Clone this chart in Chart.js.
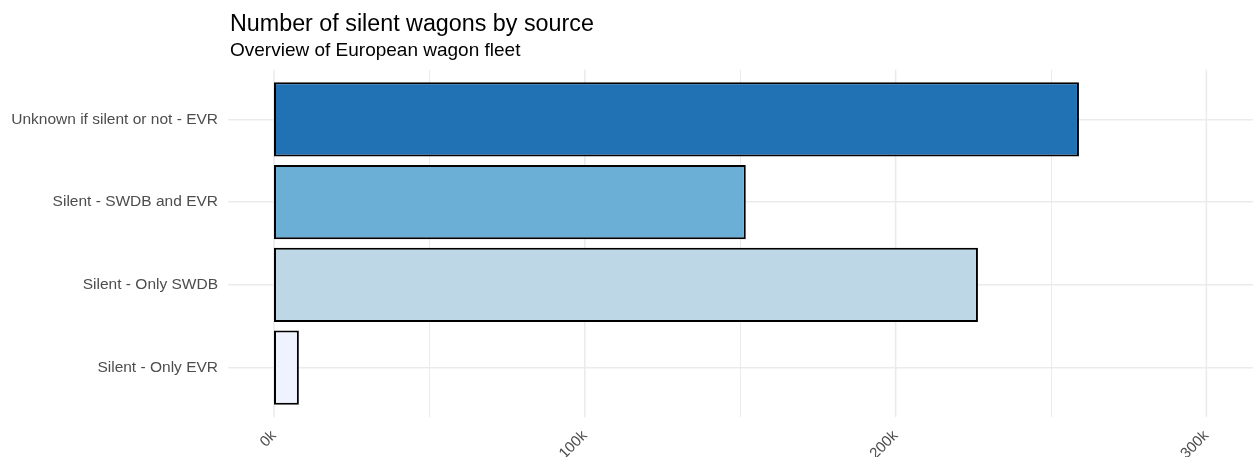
<!DOCTYPE html>
<html>
<head>
<meta charset="utf-8">
<script src="https://cdn.jsdelivr.net/npm/chart.js@4"></script>
<style>
  body { margin: 0; background: #fff; }
  canvas { display: block; }
</style>
</head>
<body>
<canvas id="chart" width="1253" height="457"></canvas>
<script>
// data
const categories = ['Unknown if silent or not - EVR', 'Silent - SWDB and EVR', 'Silent - Only SWDB', 'Silent - Only EVR'];
const wagons = [259000, 151800, 226500, 8000];
const barColors = ['#2171b5', '#6baed6', '#bdd7e7', '#eff3ff'];
const majorTicks = [0, 100000, 200000, 300000];
const minorTicks = [50000, 150000, 250000];

const FONT = '"Liberation Sans", Arial, sans-serif';

// vertical grid lines, a bit longer than the category range (like ggplot's expansion)
const gridPlugin = {
    id: 'ggGrid',
    beforeDatasetsDraw(chart) {
        const ctx = chart.ctx;
        const x = chart.scales.x, y = chart.scales.y;
        const step = Math.abs(y.getPixelForValue(1) - y.getPixelForValue(0));
        const top = chart.chartArea.top - step * 0.1;
        const bottom = chart.chartArea.bottom + step * 0.1;
        ctx.save();
        ctx.strokeStyle = '#ebebeb';
        minorTicks.forEach(v => {
            const px = Math.round(x.getPixelForValue(v)) + 0.5;
            ctx.lineWidth = 1;
            ctx.beginPath(); ctx.moveTo(px, top); ctx.lineTo(px, bottom); ctx.stroke();
        });
        majorTicks.forEach(v => {
            const px = x.getPixelForValue(v);
            ctx.lineWidth = 1.6;
            ctx.beginPath(); ctx.moveTo(px, top); ctx.lineTo(px, bottom); ctx.stroke();
        });
        ctx.restore();
    }
};

// title + subtitle at the panel's left edge
const titlePlugin = {
    id: 'ggTitle',
    afterDraw(chart) {
        const ctx = chart.ctx;
        const left = chart.chartArea.left + 2;
        ctx.save();
        ctx.fillStyle = '#000';
        ctx.textBaseline = 'alphabetic';
        ctx.font = '23.3px ' + FONT;
        ctx.fillText('Number of silent wagons by source', left, 31);
        ctx.font = '19px ' + FONT;
        ctx.fillText('Overview of European wagon fleet', left, 56);
        ctx.restore();
    }
};

new Chart(document.getElementById('chart'), {
    type: 'bar',
    data: {
        labels: categories,
        datasets: [{
            data: wagons,
            backgroundColor: barColors,
            borderColor: '#000',
            borderWidth: 2,
            borderSkipped: false,
            categoryPercentage: 0.9,
            barPercentage: 1
        }]
    },
    options: {
        indexAxis: 'y',
        responsive: false,
        animation: false,
        events: [],
        layout: { padding: { top: 78, left: 0, right: 0, bottom: 0 } },
        plugins: {
            legend: { display: false },
            tooltip: { enabled: false }
        },
        scales: {
            x: {
                type: 'linear',
                min: -14800,
                max: 315000,
                afterBuildTicks: s => { s.ticks = majorTicks.map(v => ({ value: v })); },
                afterFit: s => { s.height = 48; },
                grid: { display: false },
                border: { display: false },
                ticks: {
                    autoSkip: false,
                    minRotation: 45,
                    maxRotation: 45,
                    padding: 10,
                    color: '#4d4d4d',
                    font: { family: FONT, size: 15 },
                    callback: v => (v / 1000) + 'k'
                }
            },
            y: {
                afterFit: s => { s.width = 228; },
                grid: { color: '#ebebeb', lineWidth: 1.6, offset: false, drawTicks: false },
                border: { display: false },
                ticks: {
                    padding: 10,
                    color: '#4d4d4d',
                    font: { family: FONT, size: 15.5 }
                }
            }
        }
    },
    plugins: [gridPlugin, titlePlugin]
});
</script>
</body>
</html>
